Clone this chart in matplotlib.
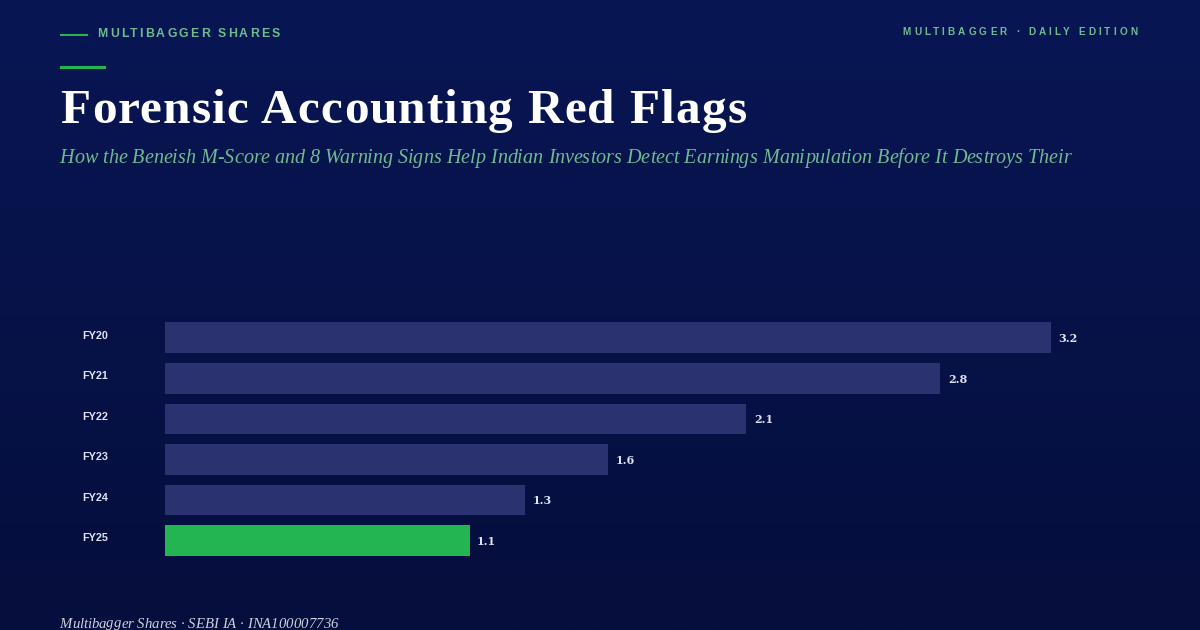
import numpy as np
import matplotlib
matplotlib.use("Agg")
import matplotlib.pyplot as plt
from matplotlib.colors import LinearSegmentedColormap
from matplotlib.font_manager import FontProperties, findfont
from matplotlib.ft2font import LoadFlags
from matplotlib.font_manager import get_font
from matplotlib.patches import Rectangle
from matplotlib.text import Text
from matplotlib.transforms import ScaledTranslation, Bbox, IdentityTransform

categories = ["FY20", "FY21", "FY22", "FY23", "FY24", "FY25"]
values = [3.2, 2.8, 2.1, 1.6, 1.3, 1.1]
highlight = "FY25"

W, H = 1200, 630
BG_TOP, BG_BOTTOM = "#081654", "#050e3c"
GREEN = "#22b551"
SOFT_GREEN = "#6dbb8f"
BAR = "#2a3270"
LABEL = "#dfe3f2"
SERIF = "Liberation Serif"
SANS = "Liberation Sans"


class TrackedText(Text):
    """One text artist drawn with CSS-like letter spacing (px)."""

    def __init__(self, *args, tracking=0.0, **kwargs):
        super().__init__(*args, **kwargs)
        self.tracking = tracking

    def _ink(self, s):
        fp = self.get_fontproperties()
        font = get_font(findfont(fp))
        font.set_size(fp.get_size_in_points(), self.get_figure(root=True).dpi)
        font.set_text(s, 0, flags=LoadFlags.NO_HINTING)
        return font.get_width_height()[0] / 64

    def draw(self, renderer):
        s = self.get_text()
        x0, y0 = self.get_transform().transform(self.get_position())
        for i, ch in enumerate(s):
            if ch == " ":
                continue
            dx = self._ink(s[: i + 1]) - self._ink(ch) + i * self.tracking
            t = Text(x0 + dx, y0, ch, color=self.get_color(), va="baseline", ha="left",
                     fontproperties=self.get_fontproperties(),
                     transform=IdentityTransform())
            t.set_figure(self.get_figure(root=True))
            t.draw(renderer)

    def get_window_extent(self, renderer=None, dpi=None):
        b = super().get_window_extent(renderer, dpi)
        return Bbox.from_extents(b.x0, b.y0, b.x1 + self.tracking * (len(self.get_text()) - 1), b.y1)


fig = plt.figure(figsize=(W / 100, H / 100), dpi=100)


def px_box(x0, y0, x1, y1):
    return [x0 / W, 1 - y1 / H, (x1 - x0) / W, (y1 - y0) / H]


bg = fig.add_axes([0, 0, 1, 1], zorder=0)
bg.axis("off")
cmap = LinearSegmentedColormap.from_list("bg", [BG_TOP, BG_BOTTOM])
bg.imshow(np.linspace(0, 1, 256)[:, None], aspect="auto", cmap=cmap, extent=[0, 1, 0, 1])

ax = fig.add_axes(px_box(165, 317.45, 1165, 560.75), zorder=1)
ax.patch.set_visible(False)
for sp in ax.spines.values():
    sp.set_visible(False)
ax.set_xlim(0, 1000 / 276.9)
ax.set_ylim(len(categories) - 0.5, -0.5)
ys = np.arange(len(categories))
colors = [GREEN if c == highlight else BAR for c in categories]
ax.barh(ys, values, height=0.752, color=colors, linewidth=0)
ax.set_xticks([])
ax.set_yticks(ys, categories)
ax.tick_params(axis="y", length=0, pad=59.7, colors=LABEL)
off = ScaledTranslation(0, 2.2 / 72, fig.dpi_scale_trans)
for lab in ax.get_yticklabels():
    lab.set_ha("left")
    lab.set_fontproperties(FontProperties(family=SANS, weight="bold", size=7.8))
    lab.set_transform(lab.get_transform() + off)
for y, v in zip(ys, values):
    ax.annotate(f"{v:.1f}", (v, y), xytext=(5.4, -0.7), textcoords="offset points",
                ha="left", va="center", color=LABEL,
                fontproperties=FontProperties(family="DejaVu Serif", weight="bold", size=8))


def label(x, y, s, tracking, color, family, size, weight="normal", style="normal"):
    fig.add_artist(TrackedText(x / W, 1 - y / H, s, tracking=tracking, color=color,
                               va="baseline", ha="left", transform=fig.transFigure,
                               fontproperties=FontProperties(family=family, size=size,
                                                             weight=weight, style=style)))


label(97.5, 37, "MULTIBAGGER SHARES", 2.2, SOFT_GREEN, SANS, 8.8, "bold")
label(902.5, 35, "MULTIBAGGER · DAILY EDITION", 3.07, SOFT_GREEN, SANS, 7.2, "bold")
label(60.5, 123, "Forensic Accounting Red Flags", 1.22, "#ffffff", SERIF, 35.5, "bold")
label(59.5, 163, "How the Beneish M-Score and 8 Warning Signs Help Indian Investors Detect Earnings Manipulation Before It Destroys Their",
      -0.02, SOFT_GREEN, SERIF, 14.5, style="italic")
label(59.5, 627.5, "Multibagger Shares · SEBI IA · INA100007736", 0.02, "#cdd2de", SERIF, 10.6, style="italic")

fig.add_artist(Rectangle((60 / W, 1 - 35.5 / H), 28 / W, 2 / H, transform=fig.transFigure,
                         color=GREEN, linewidth=0))
fig.add_artist(Rectangle((60 / W, 1 - 69 / H), 46 / W, 3 / H, transform=fig.transFigure,
                         color=GREEN, linewidth=0))

fig.savefig("out.png", dpi=100)
